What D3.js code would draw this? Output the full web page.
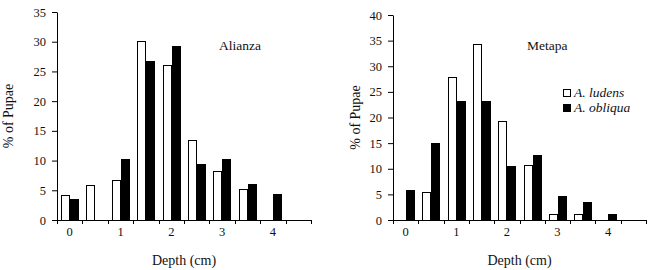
<!DOCTYPE html>
<html lang="en">
<head>
  <meta charset="UTF-8">
  <title>Pupation depth</title>
  <script src="https://d3js.org/d3.v7.min.js"></script>
  <style>
    body { margin: 0; background: #fff; }
  </style>
</head>
<body>
  <div id="chart"></div>
  <script>
    // depth classes (cm), one bar pair per class
    const depths = [0, 0.5, 1, 1.5, 2, 2.5, 3, 3.5, 4, 4.5];
    const depthLabels = [0, 1, 2, 3, 4];
    const series = ["A. ludens", "A. obliqua"];

    // % of pupae
    const alianzaLudens = [4.2, 5.9, 6.8, 30.2, 26.0, 13.4, 8.3, 5.2, 0, 0];
    const alianzaObliqua = [3.5, 0, 10.2, 26.8, 29.3, 9.5, 10.2, 6.0, 4.4, 0];
    const metapaLudens = [0, 5.4, 27.9, 34.4, 19.3, 10.8, 1.2, 1.2, 0, 0];
    const metapaObliqua = [5.9, 15.1, 23.2, 23.2, 10.6, 12.7, 4.7, 3.5, 1.1, 0];

    const alianzaTicks = [0, 5, 10, 15, 20, 25, 30, 35];
    const metapaTicks = [0, 5, 10, 15, 20, 25, 30, 35, 40];

    const FONT = "Liberation Serif";
    const W = 650, H = 270;
    const svg = d3.select("#chart").append("svg")
      .attr("width", W)
      .attr("height", H)
      .attr("font-family", FONT)
      .attr("fill", "#111");

    // small helper to style a text selection
    function txt(sel, size, italic) {
      sel.attr("font-family", FONT)
        .attr("font-size", size)
        .attr("fill", "#111");
      if (italic) sel.attr("font-style", "italic");
      return sel;
    }

    const panels = [
      { name: "Alianza", ludens: alianzaLudens, obliqua: alianzaObliqua, ticks: alianzaTicks,
        left: 57, right: 311, top: 12, bottom: 220, yTitleX: 13, nameX: 219, legend: false },
      { name: "Metapa", ludens: metapaLudens, obliqua: metapaObliqua, ticks: metapaTicks,
        left: 393, right: 646, top: 15, bottom: 220, yTitleX: 360, nameX: 527, legend: true }
    ];

    panels.forEach(p => {
      const g = svg.append("g");

      const x = d3.scaleBand()
        .domain(depths)
        .range([p.left, p.right]);

      const xSub = d3.scaleBand()
        .domain(series)
        .range([0, x.bandwidth()])
        .paddingOuter(0.5);

      const y = d3.scaleLinear()
        .domain([0, d3.max(p.ticks)])
        .range([p.bottom, p.top]);

      const rows = depths.map((d, i) => ({ depth: d, "A. ludens": p.ludens[i], "A. obliqua": p.obliqua[i] }));

      // bars
      g.selectAll(".grp")
        .data(rows)
        .join("g")
        .attr("transform", d => `translate(${x(d.depth)},0)`)
        .selectAll("rect")
        .data(d => series.map(s => ({ s, v: d[s] })).filter(e => e.v > 0))
        .join("rect")
        .attr("x", e => Math.round(xSub(e.s)) + 0.5)
        .attr("y", e => Math.round(y(e.v)) + 0.5)
        .attr("width", Math.round(xSub.bandwidth()))
        .attr("height", e => p.bottom - Math.round(y(e.v)))
        .attr("fill", e => e.s === "A. ludens" ? "#fff" : "#000")
        .attr("stroke", "#000")
        .attr("stroke-width", 1)
        .attr("shape-rendering", "crispEdges");

      // y axis
      const yAxis = g.append("g")
        .attr("transform", `translate(${p.left},0)`)
        .call(d3.axisLeft(y).tickValues(p.ticks).tickSize(5).tickSizeOuter(0).tickPadding(6));
      txt(yAxis.selectAll("text"), 12.5);

      // x axis: baseline with ticks on the class boundaries
      const xAxis = g.append("g")
        .attr("transform", `translate(0,${p.bottom})`)
        .call(d3.axisBottom(x).tickValues(depthLabels).tickSize(0).tickSizeOuter(0).tickPadding(7));
      txt(xAxis.selectAll("text"), 12.5);

      const edges = depths.map(d => x(d)).concat([p.right]);
      g.selectAll(".edge")
        .data(edges)
        .join("line")
        .attr("x1", d => Math.round(d) + 0.5)
        .attr("x2", d => Math.round(d) + 0.5)
        .attr("y1", p.bottom)
        .attr("y2", p.bottom + 4)
        .attr("stroke", "#000");

      // titles
      txt(g.append("text"), 14)
        .attr("text-anchor", "middle")
        .attr("x", (p.left + p.right) / 2)
        .attr("y", 265)
        .text("Depth (cm)");

      txt(g.append("text"), 14)
        .attr("text-anchor", "middle")
        .attr("transform", `translate(${p.yTitleX},${(p.top + p.bottom) / 2}) rotate(-90)`)
        .text("% of Pupae");

      txt(g.append("text"), 13.5)
        .attr("x", p.nameX)
        .attr("y", 50)
        .text(p.name);

      if (p.legend) {
        const lg = g.append("g")
          .attr("transform", `translate(${p.left + 170},89)`);
        const item = lg.selectAll("g")
          .data(series)
          .join("g")
          .attr("transform", (d, i) => `translate(0,${i * 15})`);
        item.append("rect")
          .attr("x", 0.5).attr("y", 0.5)
          .attr("width", 7).attr("height", 7)
          .attr("fill", d => d === "A. ludens" ? "#fff" : "#000")
          .attr("stroke", "#000");
        txt(item.append("text"), 13.5, true)
          .attr("x", 11)
          .attr("y", 8)
          .text(d => d);
      }
    });
  </script>
</body>
</html>
